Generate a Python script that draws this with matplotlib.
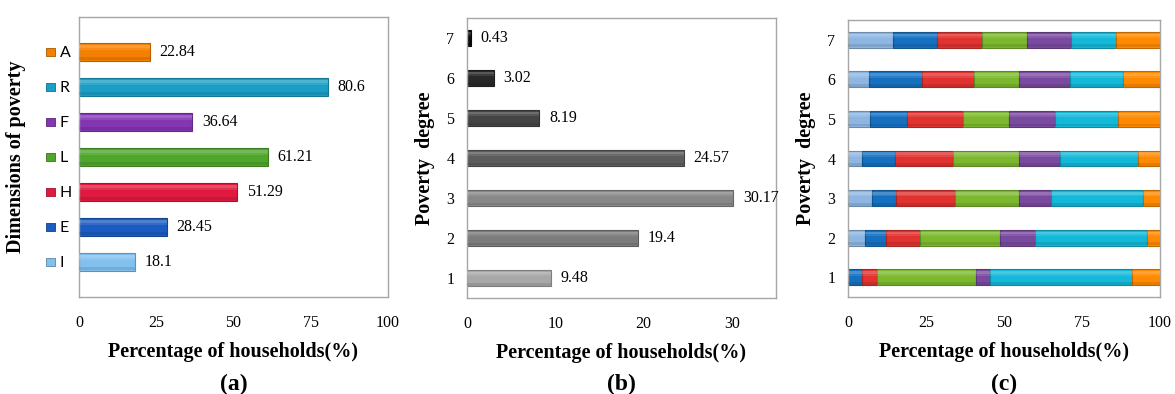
import matplotlib
matplotlib.use('Agg')
import matplotlib.pyplot as plt
import matplotlib.colors as mcolors
from matplotlib.transforms import blended_transform_factory
import numpy as np

plt.rcParams['font.family'] = ['Liberation Serif', 'DejaVu Serif']

# ---- data ----
dims = ['I', 'E', 'H', 'L', 'F', 'R', 'A']
dim_pct = [18.1, 28.45, 51.29, 61.21, 36.64, 80.6, 22.84]

degrees = [1, 2, 3, 4, 5, 6, 7]
degree_pct = [9.48, 19.4, 30.17, 24.57, 8.19, 3.02, 0.43]

# share of each dimension within each poverty degree (1..7)
share_I = [0.0, 5.5, 7.8, 4.4, 7.2, 6.7, 14.3]
share_E = [4.4, 6.8, 7.5, 10.6, 11.8, 16.9, 14.2]
share_H = [4.8, 10.9, 19.0, 18.7, 18.0, 16.8, 14.5]
share_L = [31.7, 25.6, 20.4, 21.2, 14.7, 14.4, 14.4]
share_F = [4.6, 11.3, 10.3, 13.0, 14.7, 16.4, 14.1]
share_R = [45.4, 35.7, 29.6, 25.1, 20.0, 16.8, 14.4]
share_A = [9.1, 4.2, 5.3, 7.0, 13.7, 12.0, 14.3]

colors_a = ['#82c0ee', '#1a5cc2', '#e01a3e', '#4ea62a', '#8236b2', '#1a9ec6', '#f58000']
colors_c = ['#8eb6e2', '#1670c0', '#e0322f', '#7cb82e', '#7a4aa0', '#14b8d8', '#ff8a00']
grays_b = ['#a8a8a8', '#7c7c7c', '#888888', '#5c5c5c', '#444444', '#282828', '#0c0c0c']


def darker(c, f=0.7):
    r, g, b = mcolors.to_rgb(c)
    return (r * f, g * f, b * f)


def bevel_barh(ax, y, w, left, h, c):
    ax.barh(y, w, left=left, height=h, color=c, edgecolor=darker(c, 0.75), linewidth=0.8, zorder=2)
    # soft highlight on top, slight shade at the bottom (3d look)
    ax.barh(y + h * 0.30, w, left=left, height=h * 0.16, color='white', alpha=0.22, linewidth=0, zorder=3)
    ax.barh(y + h * 0.16, w, left=left, height=h * 0.12, color='white', alpha=0.10, linewidth=0, zorder=3)
    ax.barh(y - h * 0.38, w, left=left, height=h * 0.18, color='black', alpha=0.10, linewidth=0, zorder=3)


def style(ax):
    for s in ax.spines.values():
        s.set_color('#a6a6a6')
        s.set_linewidth(1)
    ax.tick_params(length=0, labelsize=11.5, pad=9)
    ax.tick_params(axis='x', pad=13)


fig = plt.figure(figsize=(11.75, 3.94), dpi=100)

# ---- (a) ----
ax1 = fig.add_axes([0.0672, 0.2462, 0.263, 0.7107])
ypos = np.arange(len(dims))
for i in range(len(dims)):
    bevel_barh(ax1, ypos[i], dim_pct[i], 0, 0.5, colors_a[i])
    ax1.annotate(f'{dim_pct[i]:g}', (dim_pct[i], ypos[i]), xytext=(7, 0),
                 textcoords='offset points', va='center', ha='left', fontsize=11.5)
ax1.set_xlim(0, 100)
ax1.set_ylim(-1, 7)
ax1.set_xticks([0, 25, 50, 75, 100])
ax1.set_yticks(ypos)
ax1.set_yticklabels(dims, family='Lato', fontsize=11, ha='left')
style(ax1)
ax1.tick_params(axis='y', pad=14)
tr = blended_transform_factory(ax1.transAxes, ax1.transData)
ax1.scatter([-0.092] * len(dims), ypos, s=34, marker='s', c=colors_a,
            edgecolors=[darker(c) for c in colors_a], linewidths=0.6,
            transform=tr, clip_on=False, zorder=5)
ax1.set_xlabel('Percentage of households(%)', fontsize=14.5, fontweight='bold', labelpad=8)
ax1.set_ylabel('Dimensions of poverty', fontsize=14.5, fontweight='bold')
ax1.yaxis.set_label_coords(-0.17, 0.5)

# ---- (b) ----
ax2 = fig.add_axes([0.3974, 0.2437, 0.263, 0.7107])
for i in range(len(degrees)):
    bevel_barh(ax2, degrees[i], degree_pct[i], 0, 0.4, grays_b[i])
    ax2.annotate(f'{degree_pct[i]:g}', (degree_pct[i], degrees[i]), xytext=(7, 0),
                 textcoords='offset points', va='center', ha='left', fontsize=11.5)
ax2.set_xlim(0, 35)
ax2.set_ylim(0.5, 7.5)
ax2.set_xticks([0, 10, 20, 30])
ax2.set_yticks(degrees)
style(ax2)
ax2.set_xlabel('Percentage of households(%)', fontsize=14.5, fontweight='bold', labelpad=8)
ax2.set_ylabel('Poverty  degree', fontsize=14.5, fontweight='bold', labelpad=8)

# ---- (c) ----
ax3 = fig.add_axes([0.7217, 0.2462, 0.2655, 0.703])
shares = [share_I, share_E, share_H, share_L, share_F, share_R, share_A]
left = np.zeros(len(degrees))
for k, sh in enumerate(shares):
    for i in range(len(degrees)):
        if sh[i] > 0:
            bevel_barh(ax3, degrees[i], sh[i], left[i], 0.4, colors_c[k])
    left += np.array(sh)
ax3.set_xlim(0, 100)
ax3.set_ylim(0.5, 7.5)
ax3.set_xticks([0, 25, 50, 75, 100])
ax3.set_yticks(degrees)
style(ax3)
ax3.set_xlabel('Percentage of households(%)', fontsize=14.5, fontweight='bold', labelpad=8)
ax3.set_ylabel('Poverty  degree', fontsize=14.5, fontweight='bold', labelpad=8)

# panel captions
for ax, lab in [(ax1, '(a)'), (ax2, '(b)'), (ax3, '(c)')]:
    pos = ax.get_position()
    fig.text((pos.x0 + pos.x1) / 2, 1 - 384 / 394, lab, ha='center', va='center',
             fontsize=17, fontweight='bold')

fig.savefig('out.png', dpi=100)
